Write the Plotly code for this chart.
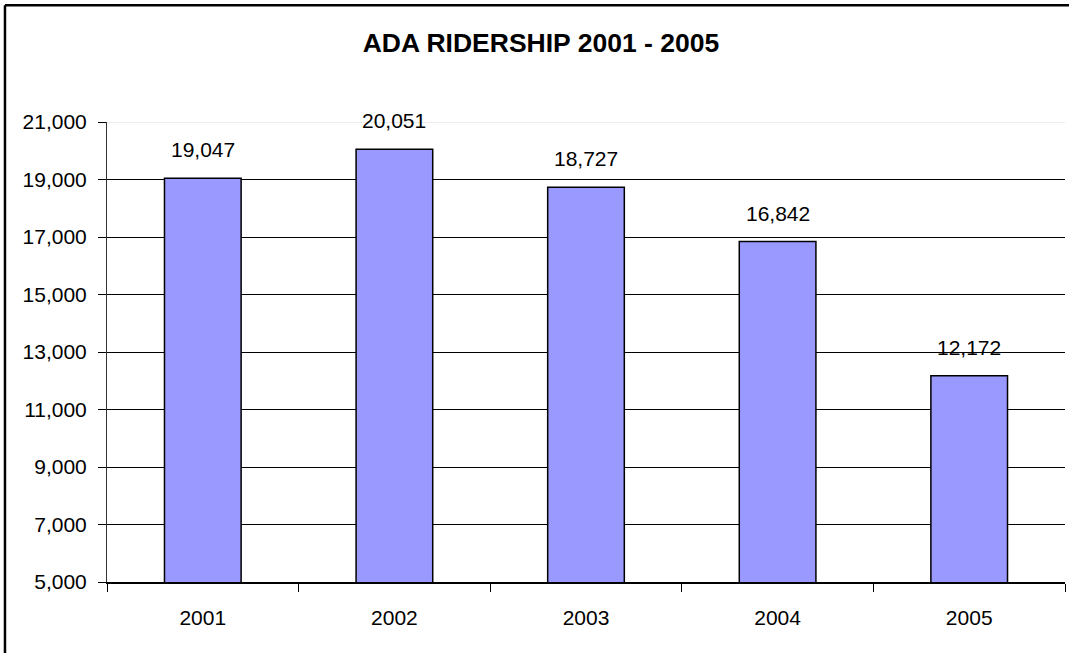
import plotly.graph_objects as go

years = ["2001", "2002", "2003", "2004", "2005"]
riders = [19047, 20051, 18727, 16842, 12172]
y_ticks = [5000, 7000, 9000, 11000, 13000, 15000, 17000, 19000, 21000]

FONT = "Liberation Sans, Arial, sans-serif"

fig = go.Figure()
fig.add_trace(go.Bar(
    x=years, y=riders,
    marker=dict(color="#9999ff", line=dict(color="black", width=1.5)),
    width=0.4,
    hoverinfo="x+y",
))

# value labels above each bar (x given as category index, "2001" would be read as a number)
for i, v in enumerate(riders):
    fig.add_annotation(x=i, y=v, text=f"{v:,}", showarrow=False,
                       yanchor="bottom", yshift=15,
                       font=dict(family=FONT, size=21, color="black"))

# light top edge of the plot area
fig.add_shape(type="line", xref="paper", yref="y", x0=0, x1=1, y0=21000, y1=21000,
              line=dict(color="#e6e6e6", width=1.5), layer="above")

# chart border: only its top and left edges fall inside the picture
border = dict(color="black", width=2.5)
fig.add_shape(type="line", xref="paper", yref="paper", x0=-0.1065, x1=1.2, y0=1.254, y1=1.254,
              line=border, layer="above")
fig.add_shape(type="line", xref="paper", yref="paper", x0=-0.1065, x1=-0.1065, y0=-0.3, y1=1.254,
              line=border, layer="above")

fig.update_layout(
    title=dict(text="<b>ADA RIDERSHIP 2001 - 2005</b>", x=0.506, xref="container",
               xanchor="center", y=1 - 43 / 653, yanchor="middle",
               font=dict(family=FONT, size=26.5, color="black")),
    width=1069, height=653,
    margin=dict(l=107, r=4, t=122, b=71),
    paper_bgcolor="white", plot_bgcolor="white",
    showlegend=False,
    font=dict(family=FONT, size=21, color="black"),
    xaxis=dict(
        type="category", range=[-0.5, len(years) - 0.5],
        showline=True, linecolor="black", linewidth=1.5,
        ticks="outside", tickson="boundaries", ticklen=8, tickcolor="black",
        tickfont=dict(family=FONT, size=21, color="black"),
        ticklabelstandoff=16, showgrid=False,
    ),
    yaxis=dict(
        range=[5000, 21000], tickvals=y_ticks, tickformat=",d",
        showline=True, linecolor="#333", linewidth=1,
        ticks="outside", ticklen=8, tickcolor="black",
        showgrid=True, gridcolor="black", gridwidth=1, zeroline=False,
        tickfont=dict(family=FONT, size=21, color="black"),
        ticklabelstandoff=7,
    ),
)

# the page's default body margin would shift the figure by 8px
fig.write_html("out.html", config={"displayModeBar": False},
               post_script="document.body.style.margin = '0';")
